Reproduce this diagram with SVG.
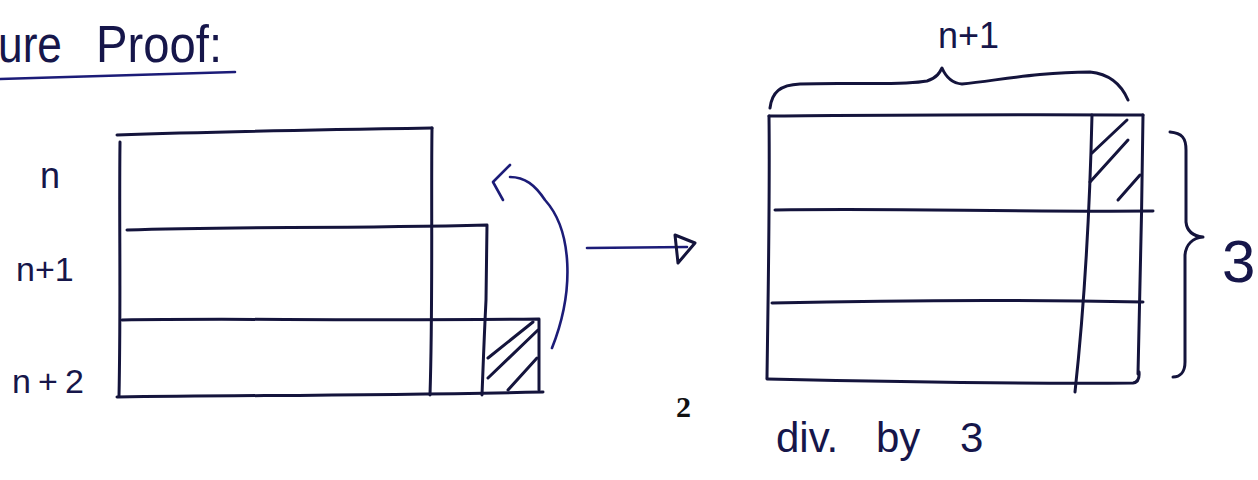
<svg xmlns="http://www.w3.org/2000/svg" width="1258" height="480" viewBox="0 0 1258 480">
  <style>
    .ink { fill: none; stroke: #14143c; stroke-width: 3; stroke-linecap: round; stroke-linejoin: round; }
    .pen { fill: none; stroke: #1c1c78; stroke-width: 2.6; stroke-linecap: round; stroke-linejoin: round; }
    .hand { font-family: "Liberation Sans", "DejaVu Sans", sans-serif; fill: #16164a; }
    .print { font-family: "Liberation Serif", "DejaVu Serif", serif; font-weight: bold; fill: #111; }
  </style>
  <rect width="1258" height="480" fill="#ffffff"/>

  <!-- heading -->
  <g id="title">
    <text class="hand" x="-2" y="62" font-size="52" textLength="64" lengthAdjust="spacingAndGlyphs">ure</text>
    <text class="hand" x="96" y="62" font-size="52" textLength="126" lengthAdjust="spacingAndGlyphs">Proof:</text>
    <path class="pen" d="M0,79 C80,76 160,74 235,72"/>
  </g>

  <!-- stacked strips n, n+1, n+2 -->
  <g id="strips">
    <path class="ink" d="M117,135 C200,132 300,130 432,128"/>
    <path class="ink" d="M120,142 C119,220 121,300 119,396"/>
    <path class="ink" d="M432,128 C431,200 433,300 430,395"/>
    <path class="ink" d="M127,230 C230,226 330,229 487,225 L486,300 C484,340 483,370 482,395"/>
    <path class="ink" d="M122,320 C230,318 330,321 539,319 L539,390"/>
    <path class="ink" d="M117,397 C250,395 350,396 543,392"/>
  </g>
  <g id="strip-hatch">
    <path class="ink" d="M488,358 L533,322 M488,378 L538,330 M508,390 L537,358"/>
  </g>
  <g id="strip-labels">
    <text class="hand" x="40" y="188" font-size="36">n</text>
    <text class="hand" x="16" y="281" font-size="34">n+1</text>
    <text class="hand" x="12" y="393" font-size="34" textLength="72" lengthAdjust="spacing">n+2</text>
  </g>

  <!-- page number -->
  <g id="page-number">
    <text class="print" x="676" y="417" font-size="30">2</text>
  </g>

  <!-- rearranged rectangle -->
  <g id="rectangle">
    <path class="ink" d="M769,116 C900,115 1000,114 1143,115"/>
    <path class="ink" d="M769,116 C770,200 768,300 767,378"/>
    <path class="ink" d="M1143,115 C1142,200 1140,300 1138,374"/>
    <path class="ink" d="M767,379 C900,382 1000,384 1133,383 Q1140,382 1139,372"/>
    <path class="ink" d="M1092,115 C1090,200 1085,300 1075,392"/>
    <path class="ink" d="M775,210 C900,208 1000,212 1153,211"/>
    <path class="ink" d="M772,303 C900,300 1000,299 1143,302"/>
  </g>
  <g id="rectangle-hatch">
    <path class="ink" d="M1092,153 L1127,120 M1090,182 L1128,140 M1118,200 L1140,175"/>
  </g>
  <g id="width-brace">
    <path class="ink" d="M770,108 C772,92 780,85 800,84 C850,82 900,86 927,81 C937,78 940,72 942,68 C945,75 950,83 962,84 C1000,80 1040,72 1090,72 C1110,74 1122,86 1128,100"/>
    <text class="hand" x="938" y="48" font-size="36">n+1</text>
  </g>
  <g id="height-brace">
    <path class="ink" d="M1170,132 C1182,133 1186,138 1186,150 L1186,222 C1187,232 1193,236 1203,237 C1193,238 1186,244 1185,255 L1185,362 C1185,372 1180,377 1173,377"/>
    <text class="hand" x="1222" y="282" font-size="60">3</text>
  </g>
  <g id="caption">
    <text class="hand" font-size="42" y="452"><tspan x="776">div.</tspan><tspan x="876">by</tspan><tspan x="960">3</tspan></text>
  </g>

  <!-- arrows -->
  <g id="connectors">
    <path class="pen" d="M552,348 C575,290 572,230 545,200 C535,185 525,177 510,177"/>
    <path class="pen" d="M510,165 L493,182 L503,200"/>
    <path class="pen" d="M587,248 L687,247"/>
    <path class="ink" d="M675,235 L695,243 L678,263 Z"/>
  </g>
</svg>
